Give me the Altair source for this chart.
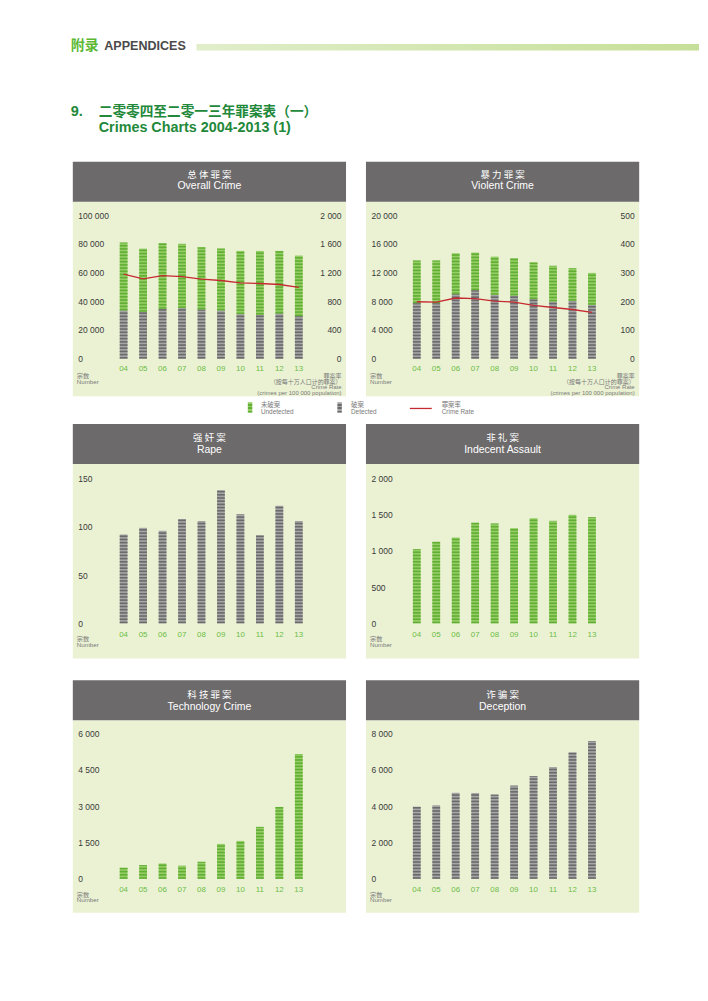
import altair as alt
import pandas as pd

# ---------------- data ----------------
years = ["04", "05", "06", "07", "08", "09", "10", "11", "12", "13"]

overall_total = [80800, 76600, 80300, 79900, 77500, 76600, 75000, 75000, 75000, 71800]
overall_detected = [33600, 32600, 34700, 35200, 34300, 33600, 31000, 30600, 31500, 29600]
overall_rate = [1176, 1111, 1157, 1143, 1106, 1088, 1056, 1046, 1032, 991]

violent_total = [13660, 13660, 14680, 14770, 14210, 13980, 13380, 12920, 12590, 11940]
violent_detected = [7730, 7730, 8980, 9540, 8890, 8800, 8290, 7960, 8060, 7500]
violent_rate = [198, 197, 211, 209, 200, 197, 185, 178, 171, 161]

rape = [92, 99, 96, 108, 106, 138, 113, 91, 122, 106]
indecent_assault = [1025, 1126, 1186, 1389, 1379, 1315, 1453, 1416, 1499, 1467]
technology_crime = [453, 563, 632, 536, 701, 1442, 1566, 2143, 2967, 5151]
deception = [3973, 4046, 4743, 4725, 4634, 5128, 5659, 6153, 6960, 7582]

overall_ticks = [0, 20000, 40000, 60000, 80000, 100000]
overall_rate_ticks = [0, 400, 800, 1200, 1600, 2000]
violent_ticks = [0, 4000, 8000, 12000, 16000, 20000]
violent_rate_ticks = [0, 100, 200, 300, 400, 500]
rape_ticks = [0, 50, 100, 150]
indecent_ticks = [0, 500, 1000, 1500, 2000]
technology_ticks = [0, 1500, 3000, 4500, 6000]
deception_ticks = [0, 2000, 4000, 6000, 8000]

# ---------------- style ----------------
FONT = "Liberation Sans"
CJK = "Noto Sans CJK SC"
MIX = "Liberation Sans, Noto Sans CJK SC"
GREEN_L = "#95ce66"
GREEN_D = "#62ae34"
GRAY_L = "#a6a6a6"
GRAY_D = "#6a6a6a"
RED = "#c62a31"
HEAD = "#6c6a6b"
BODY = "#ebf2d4"
FOOT = "#7a7a7a"
XLAB = "#6cbd45"
TICK = "#3a3a3a"
TITLE_GREEN = "#22883a"
STRIPE = 3.2
NUMFMT = "replace(format(datum.value, ','), ',', ' ')"

ROWS = {
    1: dict(H=238, t_cn=13.3, t_en=24.5, y0=197.3, y1=53.3, xlab=207.5, bg=235, n=215.0),
    2: dict(H=257, t_cn=13.8, t_en=26.2, y0=199.7, y1=54.7, xlab=211.2, bg=235, n=215.3),
    3: dict(H=235, t_cn=14.7, t_en=27.0, y0=199.0, y1=53.3, xlab=210, bg=233, n=214.8),
}


def one():
    return alt.Data(values=[{"a": 1}])


def rect(x, x2, y, y2, color):
    return alt.Chart(one()).mark_rect(fill=color, strokeWidth=0).encode(
        x=alt.value(x), x2=alt.value(x2), y=alt.value(y), y2=alt.value(y2))


def text(x, y, s, size, color, font, align="left", weight="normal", line_height=None):
    kw = dict(text=s, fontSize=size, color=color, font=font, align=align,
              baseline="middle", fontWeight=weight)
    if line_height is not None:
        kw["lineHeight"] = line_height
    return alt.Chart(one()).mark_text(**kw).encode(x=alt.value(x), y=alt.value(y))


def panel(col, row, cn, en, series, ymax, yticks, rate=None, rmax=None, rticks=None):
    g = ROWS[row]
    ox = 2 if col == 0 else 0
    W = 276 if col == 0 else 274
    H = g["H"]
    layers = [
        rect(ox, ox + 274, 40, g["bg"], BODY),
        rect(ox, ox + 274, 0, 40, HEAD),
        text(ox + 137, g["t_cn"], cn, 9.5, "white", CJK, align="center"),
        text(ox + 137, g["t_en"], en, 10.5, "white", FONT, align="center"),
        text(ox + 4, g["n"], ["宗数", "Number"], 6.2, FOOT, MIX, line_height=5.8),
    ]
    if rate is not None:
        layers.append(text(ox + 269.5, 215.0,
                           ["罪案率", "（按每十万人口计的罪案）", "Crime Rate", "(crimes per 100 000 population)"],
                           6.0, FOOT, MIX, align="right", line_height=5.6))

    xs = alt.Scale(domain=years, range=[ox + 41.2, ox + 236.4], paddingInner=0.6, paddingOuter=0.3)
    x_axis = alt.Axis(orient="bottom", labelAngle=0, labelPadding=g["xlab"] - H,
                      labelBaseline="middle", labelColor=XLAB, labelFont=FONT,
                      labelFontSize=8, domain=False, ticks=False, tickSize=0,
                      grid=False, title=None, zindex=1)
    xenc = alt.X("year:N", scale=xs, axis=x_axis)
    ys = alt.Scale(domain=[0, ymax], range=[g["y0"], g["y1"]], nice=False, zero=True)
    left_axis = alt.Axis(orient="left", values=yticks, labelExpr=NUMFMT, labelAlign="left",
                         labelPadding=-(5 + ox), labelFontSize=8.5, labelColor=TICK,
                         labelFont=FONT, domain=False, ticks=False, tickSize=0,
                         grid=False, title=None, zindex=1)
    step = STRIPE * ymax / (g["y0"] - g["y1"])

    bars = []
    for lo, hi, dark, light in series:
        df = pd.DataFrame({"year": years, "lo": lo, "hi": hi})
        bars.append(alt.Chart(df).mark_bar(color=light).encode(
            x=xenc, y=alt.Y("lo:Q", scale=ys, axis=left_axis), y2="hi:Q"))
        bars.append(alt.Chart(df).transform_calculate(
            s=f"sequence(datum.lo, datum.hi, {step})"
        ).transform_flatten(["s"]).transform_calculate(
            s2=f"min(datum.s + {step / 2}, datum.hi)"
        ).mark_rect(color=dark).encode(
            x=xenc, y=alt.Y("s:Q", scale=ys, axis=left_axis), y2="s2:Q"))
    inner = alt.layer(*bars)

    if rate is not None:
        right_axis = alt.Axis(orient="right", values=rticks, labelExpr=NUMFMT, labelAlign="right",
                              labelPadding=-5, labelFontSize=8.5, labelColor=TICK,
                              labelFont=FONT, domain=False, ticks=False, tickSize=0,
                              grid=False, title=None, zindex=1)
        rdf = pd.DataFrame({"year": years, "rate": rate})
        line = alt.Chart(rdf).mark_line(color=RED, strokeWidth=1.3).encode(
            x=xenc,
            y=alt.Y("rate:Q", scale=alt.Scale(domain=[0, rmax], range=[g["y0"], g["y1"]], nice=False),
                    axis=right_axis))
        ch = alt.layer(*layers, inner, line).resolve_scale(y="independent")
    else:
        ch = alt.layer(*layers, inner)
    return ch.properties(width=W, height=H)


zeros = [0] * len(years)

p1 = panel(0, 1, "总 体 罪 案", "Overall Crime",
           [(zeros, overall_detected, GRAY_D, GRAY_L), (overall_detected, overall_total, GREEN_D, GREEN_L)],
           100000, overall_ticks, overall_rate, 2000, overall_rate_ticks)
p2 = panel(1, 1, "暴 力 罪 案", "Violent Crime",
           [(zeros, violent_detected, GRAY_D, GRAY_L), (violent_detected, violent_total, GREEN_D, GREEN_L)],
           20000, violent_ticks, violent_rate, 500, violent_rate_ticks)
p3 = panel(0, 2, "强 奸 案", "Rape", [(zeros, rape, GRAY_D, GRAY_L)], 150, rape_ticks)
p4 = panel(1, 2, "非 礼 案", "Indecent Assault", [(zeros, indecent_assault, GREEN_D, GREEN_L)], 2000, indecent_ticks)
p5 = panel(0, 3, "科 技 罪 案", "Technology Crime", [(zeros, technology_crime, GREEN_D, GREEN_L)], 6000, technology_ticks)
p6 = panel(1, 3, "诈 骗 案", "Deception", [(zeros, deception, GRAY_D, GRAY_L)], 8000, deception_ticks)

# ---------------- page header ----------------
bar_grad = alt.LinearGradient(gradient="linear", x1=0, x2=1, y1=0, y2=0,
                              stops=[alt.GradientStop(color="#e0eeca", offset=0),
                                     alt.GradientStop(color="#c6df98", offset=1)])
hdrL = alt.layer(
    rect(0, 1, 0, 1, "white"),
    alt.Chart(one()).mark_rect(fill=bar_grad, strokeWidth=0).encode(
        x=alt.value(126), x2=alt.value(630), y=alt.value(33.7), y2=alt.value(40.3)),
    text(0, 36, "附录", 14, "#5cb833", CJK, weight="bold"),
    text(33.5, 36, "APPENDICES", 12.6, "#4a4a4a", FONT, weight="bold"),
    text(0, 102, "9.", 14.5, TITLE_GREEN, FONT, weight="bold"),
    text(28, 102, "二零零四至二零一三年罪案表（一）", 13.7, TITLE_GREEN, CJK, weight="bold"),
    text(28, 118.5, "Crimes Charts 2004-2013 (1)", 14.4, TITLE_GREEN, FONT, weight="bold"),
).properties(width=276, height=152)
hdrR = rect(0, 1, 0, 1, "white").properties(width=274, height=152)


# ---------------- legend ----------------
def striped(c_dark, c_light, n=3):
    stops = []
    for k in range(n):
        a = k / n
        b = a + 0.5 / n
        c = (k + 1) / n
        stops += [alt.GradientStop(color=c_light, offset=a), alt.GradientStop(color=c_light, offset=b),
                  alt.GradientStop(color=c_dark, offset=b), alt.GradientStop(color=c_dark, offset=c)]
    return alt.LinearGradient(gradient="linear", x1=0, x2=0, y1=0, y2=1, stops=stops)


def swatch(x, grad):
    return alt.Chart(one()).mark_rect(fill=grad, strokeWidth=0).encode(
        x=alt.value(x), x2=alt.value(x + 4.5), y=alt.value(3), y2=alt.value(13.5))


legL = alt.layer(
    swatch(177.5, striped(GREEN_D, GREEN_L)),
    text(190.7, 6.3, ["未破案", "Undetected"], 6.4, FOOT, MIX, line_height=7),
    swatch(267.3, striped(GRAY_D, GRAY_L)),
    text(281, 6.3, ["破案", "Detected"], 6.4, FOOT, MIX, line_height=7),
    alt.Chart(one()).mark_rule(color=RED, strokeWidth=1.3).encode(
        x=alt.value(340), x2=alt.value(362), y=alt.value(9.3)),
    text(372, 6.3, ["罪案率", "Crime Rate"], 6.4, FOOT, MIX, line_height=7),
).properties(width=276, height=25)
legR = rect(0, 1, 0, 1, "white").properties(width=274, height=25)

chart = alt.concat(
    hdrL, hdrR, p1, p2, legL, legR, p3, p4, p5, p6,
    columns=2, spacing={"row": 0, "column": 20}, bounds="flush", align="each",
).properties(
    padding={"left": 62, "top": 0, "right": 0, "bottom": 0}
).configure_view(stroke="transparent")

chart.save("out.html", embed_options={"renderer": "svg", "actions": False})
